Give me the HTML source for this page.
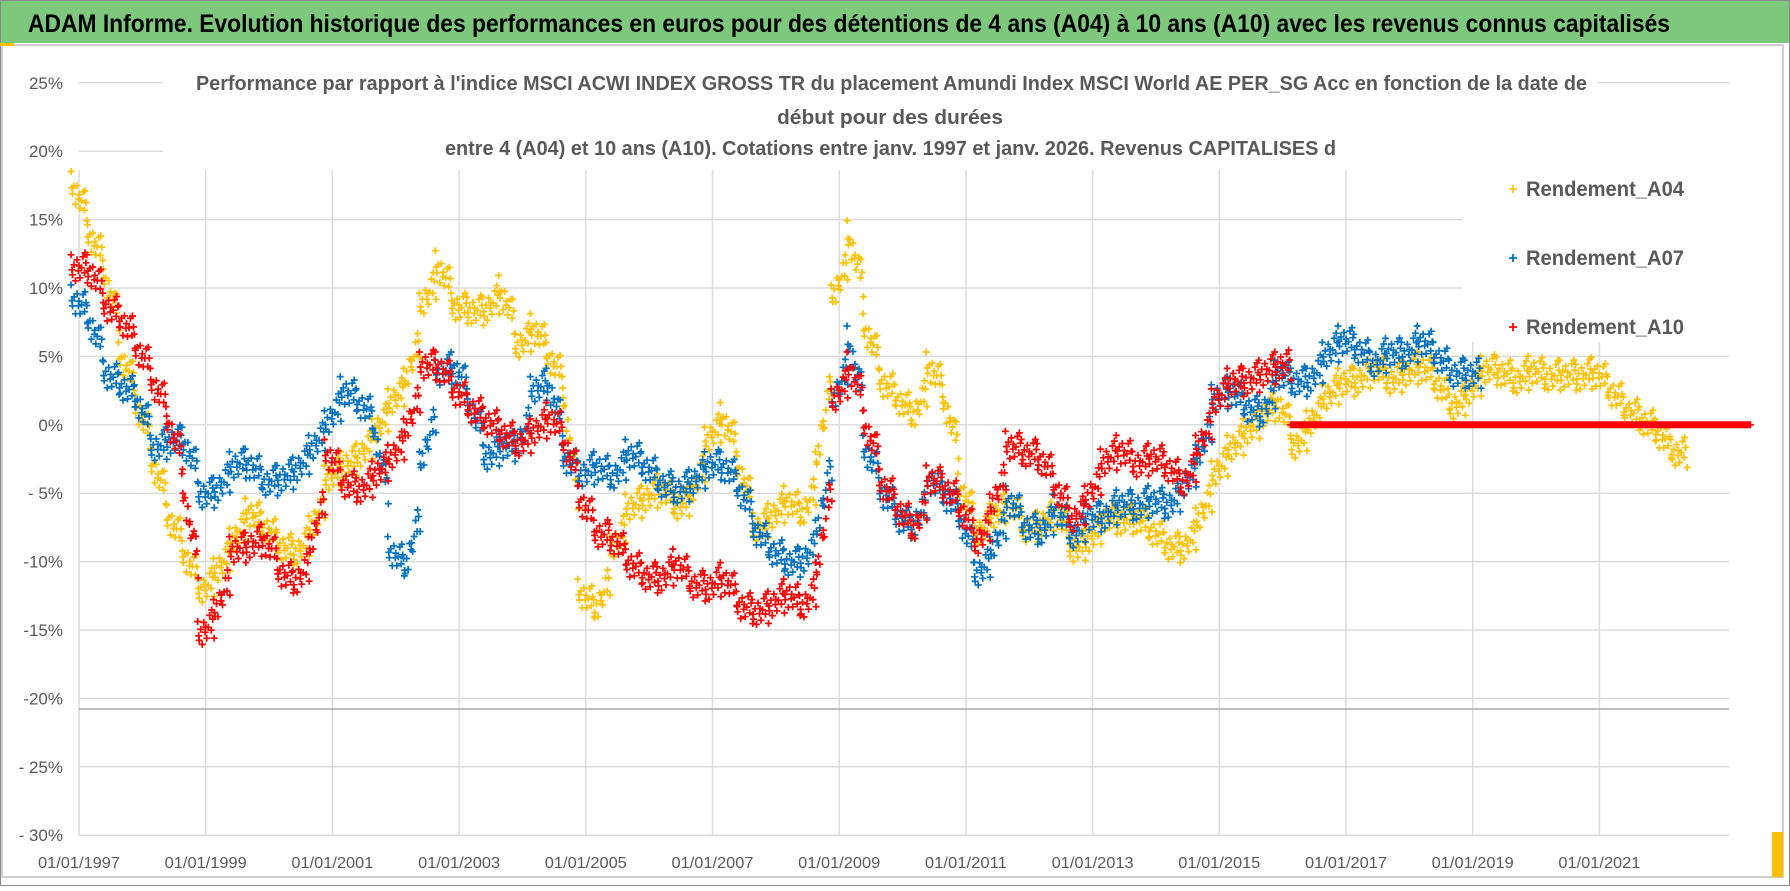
<!DOCTYPE html>
<html><head><meta charset="utf-8">
<style>
html,body{margin:0;padding:0;background:#fff;}
body{width:1790px;height:886px;overflow:hidden;font-family:"Liberation Sans",sans-serif;}
svg text{font-family:"Liberation Sans",sans-serif;}
</style></head>
<body>
<svg id="chart" width="1790" height="886" viewBox="0 0 1790 886" xmlns="http://www.w3.org/2000/svg">
  <rect x="0" y="0" width="1790" height="886" fill="#fff"/>
  <rect x="0" y="0" width="1790" height="43" fill="#7EC87E"/>
  <text x="28" y="32" font-size="25" font-weight="bold" fill="#000" textLength="1642" lengthAdjust="spacingAndGlyphs">ADAM Informe. Evolution historique des performances en euros pour des détentions de 4 ans (A04) à 10 ans (A10) avec les revenus connus capitalisés</text>
  <rect x="2" y="45" width="1781" height="832" fill="none" stroke="#d0d0d0" stroke-width="2"/>
  <rect x="0.5" y="0.5" width="1789" height="885" fill="none" stroke="#8a8a8a" stroke-width="1"/>
  <rect x="0" y="43" width="14" height="3" fill="#FFC000"/>
  <rect x="1772" y="832" width="11" height="45" fill="#FFC000"/>
  <g id="grid"></g>
  <g id="marks"></g>
  <g id="axes"></g>
  <rect x="163" y="70" width="1434" height="98" fill="#fff"/>
  <g fill="#595959" font-weight="bold" font-size="20">
    <text x="196" y="90" textLength="1391" lengthAdjust="spacingAndGlyphs">Performance par rapport à l'indice MSCI ACWI INDEX GROSS TR  du placement Amundi Index MSCI World AE PER_SG Acc en fonction de la date de</text>
    <text x="890" y="124" text-anchor="middle" textLength="226" lengthAdjust="spacingAndGlyphs">début pour des durées</text>
    <text x="445" y="155" textLength="891" lengthAdjust="spacingAndGlyphs">entre 4 (A04) et 10 ans (A10).  Cotations entre janv. 1997 et janv. 2026. Revenus CAPITALISES d</text>
  </g>
  <rect x="1462" y="150" width="268" height="192" fill="#fff"/>
  <g font-size="21" font-weight="bold" fill="#595959">
    <g>
      <path d="M1509 189h8M1513 185v8" stroke="#FFC000" stroke-width="1.6"/>
      <text x="1526" y="196" textLength="158" lengthAdjust="spacingAndGlyphs">Rendement_A04</text>
    </g>
    <g>
      <path d="M1509 258h8M1513 254v8" stroke="#0070C0" stroke-width="1.8"/>
      <text x="1526" y="265" textLength="158" lengthAdjust="spacingAndGlyphs">Rendement_A07</text>
    </g>
    <g>
      <path d="M1509 327h8M1513 323v8" stroke="#FF0000" stroke-width="1.8"/>
      <text x="1526" y="334" textLength="158" lengthAdjust="spacingAndGlyphs">Rendement_A10</text>
    </g>
  </g>
</svg>
<script>
// ---- data (quarterly readings, in %) ----
const startA04 = 1997.0;
const valuesA04 = [17.5,13.9,11,5,1.5,-2.8,-6.8,-9.5,-12.3,-10.8,-8.6,-6.4,-7.4,-8.9,-9.5,-7.7,-4,-3,-2.4,-0.6,1.6,3.1,8.6,11.7,8.6,8.3,
 8.3,9.9,5.6,7.1,5,2.5,-12.3,-13.8,-9.2,-6.1,-5.5,-4.6,-6.1,-5.2,-1.2,0.6,-3,-7.7,-6.8,-5.5,-6.8,-3,9.2,13.9,7.1,3.1,1.9,0.3,
 4.3,1.9,-4.6,-8,-6.8,-5.5,-7.7,-7.4,-6.1,-9.2,-8.6,-6.8,-7.1,-6.8,-7.7,-8.9,-9.2,-7.1,-3.7,-1.8,-0.6,0.6,1.9,-1.8,0,1.9,3.1,
 3.1,4.3,3.1,3.7,4.3,3.1,1.2,2.2,4,3.9,3.1,4,3.4,3.7,3.4,3.9,2.5,1,0.3,-0.6,-2.1];
const startA07 = 1997.0;
const valuesA07 = [9.2,7.7,3.7,2.8,1.9,-1.8,-1.2,-1.2,-5.2,-4.9,-3,-2.8,-4.3,-4,-3.4,-1.8,0,2.5,1.6,0,-9.2,-10.8,-3,3.7,4.3,1.6,
 -2.5,-1.5,-1.8,2.5,3.1,-2.5,-3.7,-3,-4,-2.1,-3,-4.3,-4.9,-4.3,-3,-3,-4.6,-7.7,-9.2,-10.1,-10.1,-8,1.6,6.2,-1.8,-4.9,-6.8,-7.7,
 -4,-5.2,-6.8,-11.1,-9.2,-5.5,-7.4,-8,-6.1,-8.3,-6.8,-6.8,-5.8,-6.1,-5.5,-6.1,-4.6,-2.5,1.9,2.5,1.2,0.6,3.7,3.1,3.1,5,6.2,
 5.6,4.3,5.3,5,6.2,5,3.7,3.7];
const startA10 = 1997.0;
const valuesA10 = [11.4,11.4,8.6,7.7,5.6,3.1,0.3,-4.6,-15.4,-13.8,-9.2,-8.9,-8.3,-10.8,-11.7,-9.2,-2.1,-4.3,-4.9,-3.7,-2.5,-0.6,4.3,4.3,2.5,1.2,
 0.3,-0.6,-1.5,-0.6,0.6,-1.2,-5.5,-8,-8.3,-10.1,-11.1,-11.4,-10.1,-11.7,-12,-11.1,-13.2,-13.8,-13.2,-12.3,-13.5,-11.1,1.6,4.3,0,-4.3,-6.1,-8,
 -4,-4.6,-6.1,-8.9,-6.1,-1.5,-2.1,-2.4,-4.6,-7.1,-5.5,-2.8,-1.8,-3,-2.4,-3,-4.6,-1.8,1.6,3.1,3.1,3.7,4.3];
const startA10zero = 2016.25;
const valuesA10zero = [0,0,0,0,0,0,0,0,0,0,0,0,0,0,0,0,0,0,0,0,0,0,0,0,0,0,0,0,0];
const stepYears = 0.25;
const yTicks = [25,20,15,10,5,0,-5,-10,-15,-20,-25,-30];
const yTickLabels = ["25%","20%","15%","10%","5%","0%","- 5%","-10%","-15%","-20%","- 25%","- 30%"];
const xTicks = [1997,1999,2001,2003,2005,2007,2009,2011,2013,2015,2017,2019,2021];
const xTickLabels = ["01/01/1997","01/01/1999","01/01/2001","01/01/2003","01/01/2005","01/01/2007","01/01/2009","01/01/2011","01/01/2013","01/01/2015","01/01/2017","01/01/2019","01/01/2021"];

// ---- axes ----
const X0 = 79, PX_PER_YEAR = 63.35, XMAX = 1729;
const Y0 = 424.8, PX_PER_PCT = 13.68;
function xScale(t){ return X0 + (t - 1997) * PX_PER_YEAR; }
function yScale(v){ return Y0 - v * PX_PER_PCT; }
const NS = "http://www.w3.org/2000/svg";
const grid = document.getElementById('grid');
const axes = document.getElementById('axes');
const marks = document.getElementById('marks');

yTicks.forEach((v,i)=>{
  const y = yScale(v);
  const ln = document.createElementNS(NS,'line');
  ln.setAttribute('x1',X0); ln.setAttribute('x2',XMAX);
  ln.setAttribute('y1',y); ln.setAttribute('y2',y);
  ln.setAttribute('stroke', '#dcdcdc');
  ln.setAttribute('stroke-width','1.5');
  
  
  grid.appendChild(ln);
  const tx = document.createElementNS(NS,'text');
  tx.setAttribute('x',63); tx.setAttribute('y',y+6);
  tx.setAttribute('text-anchor','end');
  tx.setAttribute('font-size','17'); tx.setAttribute('fill','#595959');
  tx.textContent = yTickLabels[i];
  
  
  axes.appendChild(tx);
});
xTicks.forEach((t,i)=>{
  const x = xScale(t);
  const ln = document.createElementNS(NS,'line');
  ln.setAttribute('x1',x); ln.setAttribute('x2',x);
  ln.setAttribute('y1',170); ln.setAttribute('y2',yScale(-30));
  ln.setAttribute('stroke','#dcdcdc'); ln.setAttribute('stroke-width','1.5');
  
  
  grid.appendChild(ln);
  const tx = document.createElementNS(NS,'text');
  tx.setAttribute('x',x); tx.setAttribute('y',868);
  tx.setAttribute('text-anchor','middle');
  tx.setAttribute('font-size','16'); tx.setAttribute('fill','#595959');
  tx.setAttribute('textLength','82'); tx.setAttribute('lengthAdjust','spacingAndGlyphs');
  tx.textContent = xTickLabels[i];
  
  
  axes.appendChild(tx);
});
(function(){
  const ln = document.createElementNS(NS,'line');
  ln.setAttribute('x1',X0); ln.setAttribute('x2',XMAX);
  ln.setAttribute('y1',709); ln.setAttribute('y2',709);
  ln.setAttribute('stroke','#a8a8a8'); ln.setAttribute('stroke-width','1.5');
  
  
  grid.appendChild(ln);
})();

// ---- scatter marks (each quarterly reading drawn as a cluster of + markers) ----
const clusterDX = [-8,-6.5,-5,-3.5,-2,-0.5,1,2.5,4,5.5,7,8.5,-7,0,6];
const clusterDY = [-14,6,-4,12,-9,2,9,-1,-12,4,-6,14,1,-3,-16];
function drawSeries(start, values, color, name, spreadY){
  const g = document.createElementNS(NS,'g');
  g.setAttribute('stroke',color);
  g.setAttribute('stroke-width','1.7');
  
  
  let d = '';
  values.forEach((v,i)=>{
    const cx = xScale(start + i*stepYears), cy = yScale(v);
    const next = i+1 < values.length ? yScale(values[i+1]) : cy;
    for(let k=0;k<clusterDX.length;k++){
      const frac = (clusterDX[k]+8)/32;
      const px = cx + clusterDX[k], py = cy + (next-cy)*frac*spreadY + clusterDY[k]*spreadY;
      d += 'M'+(px-3.5).toFixed(1)+' '+py.toFixed(1)+'h7M'+px.toFixed(1)+' '+(py-3.5).toFixed(1)+'v7';
    }
  });
  const p = document.createElementNS(NS,'path');
  p.setAttribute('d',d);
  
  
  g.appendChild(p);
  marks.appendChild(g);
}
drawSeries(startA04, valuesA04, '#FFC000', 'series-a04', 1);
drawSeries(startA07, valuesA07, '#0070C0', 'series-a07', 1);
drawSeries(startA10, valuesA10, '#FF0000', 'series-a10', 1);
drawSeries(startA10zero, valuesA10zero, '#FF0000', 'series-a10-flat', 0);
</script>
</body></html>
